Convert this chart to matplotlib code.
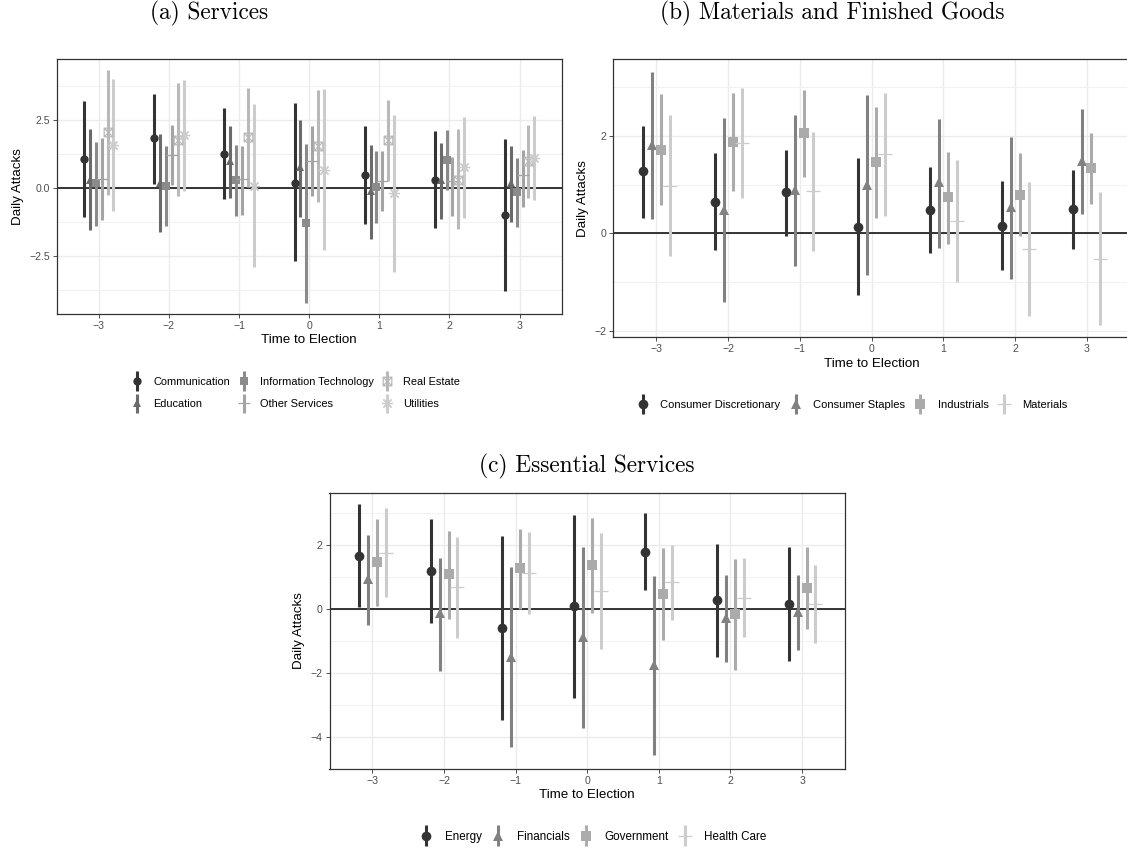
import numpy as np
import matplotlib
matplotlib.use("Agg")
import matplotlib.pyplot as plt
from matplotlib.path import Path
from matplotlib.container import ErrorbarContainer
from matplotlib.legend_handler import HandlerErrorbar

plt.rcParams['font.family'] = ['Liberation Sans', 'DejaVu Sans']

# ---------------- data ----------------
periods = [-3, -2, -1, 0, 1, 2, 3]

# (a) Services
a_names = ["Communication", "Education", "Information Technology",
           "Other Services", "Real Estate", "Utilities"]
comm_est = [1.09, 1.83, 1.27, 0.21, 0.50, 0.32, -0.97]
comm_lo = [-1.05, 0.16, -0.39, -2.67, -1.31, -1.45, -3.76]
comm_hi = [3.22, 3.48, 2.95, 3.12, 2.30, 2.10, 1.81]
edu_est = [0.31, 0.20, 0.99, 0.78, -0.11, 0.30, 0.20]
edu_lo = [-1.54, -1.62, -0.36, -1.05, -1.85, -1.12, -1.24]
edu_hi = [2.17, 2.00, 2.28, 2.50, 1.58, 1.67, 1.54]
it_est = [0.18, 0.10, 0.29, -1.27, 0.05, 1.03, -0.12]
it_lo = [-1.40, -1.37, -1.03, -4.20, -1.27, -0.06, -1.42]
it_hi = [1.70, 1.57, 1.60, 1.64, 1.36, 2.14, 1.10]
oth_est = [0.35, 1.24, 0.34, 0.99, 0.27, 0.25, 0.50]
oth_lo = [-1.16, 0.12, -0.97, -0.30, -0.82, -1.02, -0.70]
oth_hi = [1.86, 2.34, 1.57, 2.29, 1.38, 1.15, 1.40]
re_est = [2.05, 1.79, 1.89, 1.56, 1.79, 0.32, 0.99]
re_lo = [-0.23, -0.29, 0.06, -0.51, 0.28, -1.51, -0.37]
re_hi = [4.33, 3.86, 3.68, 3.61, 3.26, 2.18, 2.33]
util_est = [1.58, 1.94, 0.07, 0.69, -0.17, 0.77, 1.12]
util_lo = [-0.82, -0.09, -2.90, -2.28, -3.08, -1.09, -0.43]
util_hi = [4.00, 3.97, 3.08, 3.65, 2.70, 2.62, 2.67]

# (b) Materials and Finished Goods
b_names = ["Consumer Discretionary", "Consumer Staples", "Industrials", "Materials"]
cd_est = [1.27, 0.65, 0.84, 0.13, 0.47, 0.16, 0.49]
cd_lo = [0.32, -0.34, -0.05, -1.26, -0.41, -0.76, -0.33]
cd_hi = [2.20, 1.64, 1.72, 1.54, 1.37, 1.08, 1.31]
cs_est = [1.81, 0.47, 0.88, 1.00, 1.05, 0.54, 1.49]
cs_lo = [0.29, -1.42, -0.68, -0.85, -0.30, -0.93, 0.40]
cs_hi = [3.32, 2.37, 2.42, 2.84, 2.35, 1.97, 2.55]
ind_est = [1.71, 1.87, 2.06, 1.46, 0.74, 0.79, 1.34]
ind_lo = [0.58, 0.86, 1.16, 0.32, -0.21, -0.06, 0.60]
ind_hi = [2.86, 2.88, 2.95, 2.59, 1.68, 1.64, 2.05]
mat_est = [0.98, 1.86, 0.86, 1.62, 0.26, -0.32, -0.52]
mat_lo = [-0.47, 0.73, -0.36, 0.35, -0.99, -1.70, -1.88]
mat_hi = [2.42, 2.99, 2.08, 2.88, 1.51, 1.06, 0.85]

# (c) Essential Services
c_names = ["Energy", "Financials", "Government", "Health Care"]
en_est = [1.65, 1.18, -0.60, 0.08, 1.78, 0.27, 0.15]
en_lo = [0.06, -0.45, -3.46, -2.79, 0.59, -1.51, -1.61]
en_hi = [3.26, 2.81, 2.26, 2.94, 2.98, 2.03, 1.92]
fin_est = [0.92, -0.14, -1.50, -0.89, -1.76, -0.27, -0.10]
fin_lo = [-0.49, -1.95, -4.29, -3.70, -4.55, -1.65, -1.28]
fin_hi = [2.30, 1.60, 1.32, 1.94, 1.01, 1.05, 1.04]
gov_est = [1.45, 1.08, 1.27, 1.36, 0.46, -0.16, 0.65]
gov_lo = [0.09, -0.31, 0.01, -0.13, -0.97, -1.90, -0.62]
gov_hi = [2.79, 2.43, 2.48, 2.84, 1.90, 1.56, 1.92]
hc_est = [1.75, 0.67, 1.12, 0.56, 0.84, 0.35, 0.16]
hc_lo = [0.36, -0.90, -0.15, -1.25, -0.35, -0.88, -1.05]
hc_hi = [3.13, 2.24, 2.39, 2.35, 2.00, 1.59, 1.37]

# ---------------- styling ----------------
W, H = 1127, 850
fig = plt.figure(figsize=(W / 100, H / 100), dpi=100)


def fig_rect(l, t, r, b):
    return [l / W, 1 - b / H, (r - l) / W, (b - t) / H]


def grey_levels(n, start=0.2, end=0.8, gamma=2.2):
    s, e = start ** gamma, end ** gamma
    return [str((s + (e - s) * i / (n - 1)) ** (1 / gamma)) for i in range(n)]


box_x = Path([(-1, -1), (1, -1), (1, 1), (-1, 1), (-1, -1),
              (-1, -1), (1, 1), (-1, 1), (1, -1)],
             [Path.MOVETO, Path.LINETO, Path.LINETO, Path.LINETO, Path.CLOSEPOLY,
              Path.MOVETO, Path.LINETO, Path.MOVETO, Path.LINETO])

GRID = '#EBEBEB'
TICKC = '#4D4D4D'


def style_axes(ax, ylim, major, minor):
    ax.set_xlim(-3.6, 3.6)
    ax.set_ylim(*ylim)
    ax.set_xticks(periods)
    ax.set_yticks(major)
    ax.set_yticks(minor, minor=True)
    ax.grid(True, which='major', color=GRID, lw=1.0, zorder=0)
    ax.grid(True, which='minor', axis='y', color='#F2F2F2', lw=0.7, zorder=0)
    ax.set_axisbelow(True)
    ax.tick_params(which='major', length=2.8, width=0.6, color='#333333',
                   labelsize=7.6, labelcolor=TICKC, pad=2)
    ax.tick_params(which='minor', length=0)
    for sp in ax.spines.values():
        sp.set_color('#333333')
        sp.set_linewidth(0.9)
    ax.axhline(0, color='black', lw=1.1, zorder=1.5)
    ax.set_xlabel("Time to Election", fontsize=9.6, labelpad=2.5)
    ax.set_ylabel("Daily Attacks", fontsize=9.6, labelpad=4)


def draw_series(ax, series, names, markers, width=0.5, ms=6.2):
    n = len(series)
    cols = grey_levels(n)
    x0 = np.array(periods, dtype=float)
    for i, ((est, lo, hi), name, mk) in enumerate(zip(series, names, markers)):
        off = (i - (n - 1) / 2) * width / n
        est = np.asarray(est); lo = np.asarray(lo); hi = np.asarray(hi)
        kw = dict(marker=mk['m'], ms=mk.get('ms', ms), mew=mk.get('mew', 0),
                  mfc=mk.get('mfc', cols[i]), mec=cols[i])
        ax.errorbar(x0 + off, est, yerr=[est - lo, hi - est], linestyle='none',
                    color=cols[i], ecolor=cols[i], elinewidth=2.2, capsize=0,
                    label=name, zorder=3, **kw)


mk_circle = dict(m='o')
mk_tri = dict(m='^')
mk_sq = dict(m='s')
mk_plus = dict(m='+', mew=0.9)
mk_box = dict(m=box_x, mfc='none', mew=0.9)
mk_ast = dict(m=(8, 2, 0), mew=0.9)

# ---- panel (a)
ax_a = fig.add_axes(fig_rect(56.7, 59.3, 561.7, 314))
style_axes(ax_a, (-4.62, 4.74), [-2.5, 0, 2.5], [-3.75, -1.25, 1.25, 3.75])
ax_a.set_yticklabels(["\u22122.5", "0.0", "2.5"])
series_a = [(comm_est, comm_lo, comm_hi), (edu_est, edu_lo, edu_hi),
            (it_est, it_lo, it_hi), (oth_est, oth_lo, oth_hi),
            (re_est, re_lo, re_hi), (util_est, util_lo, util_hi)]
draw_series(ax_a, series_a, a_names,
            [dict(mk_circle, ms=6.0), dict(mk_tri, ms=6.0), dict(mk_sq, ms=5.8),
             dict(mk_plus, ms=8.5), dict(mk_box, ms=6.2), dict(mk_ast, ms=8.0)])

# ---- panel (b)
ax_b = fig.add_axes(fig_rect(613.3, 59.0, 1130.0, 337.5))
style_axes(ax_b, (-2.14, 3.58), [-2, 0, 2], [-1, 1, 3])
series_b = [(cd_est, cd_lo, cd_hi), (cs_est, cs_lo, cs_hi),
            (ind_est, ind_lo, ind_hi), (mat_est, mat_lo, mat_hi)]
draw_series(ax_b, series_b, b_names,
            [dict(mk_circle, ms=7.0), dict(mk_tri, ms=7.2), dict(mk_sq, ms=7.0),
             dict(mk_plus, ms=10.5)])
ax_b.spines['right'].set_visible(False)

# ---- panel (c)
ax_c = fig.add_axes(fig_rect(329.5, 492.7, 845.0, 769.3))
style_axes(ax_c, (-4.94, 3.62), [-4, -2, 0, 2], [-5, -3, -1, 1, 3])
series_c = [(en_est, en_lo, en_hi), (fin_est, fin_lo, fin_hi),
            (gov_est, gov_lo, gov_hi), (hc_est, hc_lo, hc_hi)]
draw_series(ax_c, series_c, c_names,
            [dict(mk_circle, ms=7.0), dict(mk_tri, ms=7.2), dict(mk_sq, ms=7.0),
             dict(mk_plus, ms=10.5)])

# ---- legends
hmap = {ErrorbarContainer: HandlerErrorbar(xerr_size=0.9)}


def add_legend(ax, cx, cy, ncol, colsp, fs=8.0, tp=1.1):
    h, l = ax.get_legend_handles_labels()
    fig.legend(h, l, loc='center', bbox_to_anchor=(cx / W, 1 - cy / H),
               ncol=ncol, frameon=False, fontsize=fs, handlelength=1.0,
               handletextpad=tp, columnspacing=colsp, labelspacing=1.15,
               numpoints=1, handler_map=hmap)


add_legend(ax_a, 296, 393, 3, 0.7, fs=7.9, tp=1.0)
add_legend(ax_b, 852, 405, 4, 0.85, fs=8.0, tp=1.1)
add_legend(ax_c, 593, 837, 4, 0.9, fs=8.4, tp=1.1)

# ---- captions
cap = dict(fontsize=16.8, family='cmr10', ha='center', va='center')
fig.text(209 / W, 1 - 13 / H, "(a) Services", **cap)
fig.text(832 / W, 1 - 13 / H, "(b) Materials and Finished Goods", **cap)
fig.text(587 / W, 1 - 466 / H, "(c) Essential Services", **cap)

fig.savefig("out.png", dpi=100)
